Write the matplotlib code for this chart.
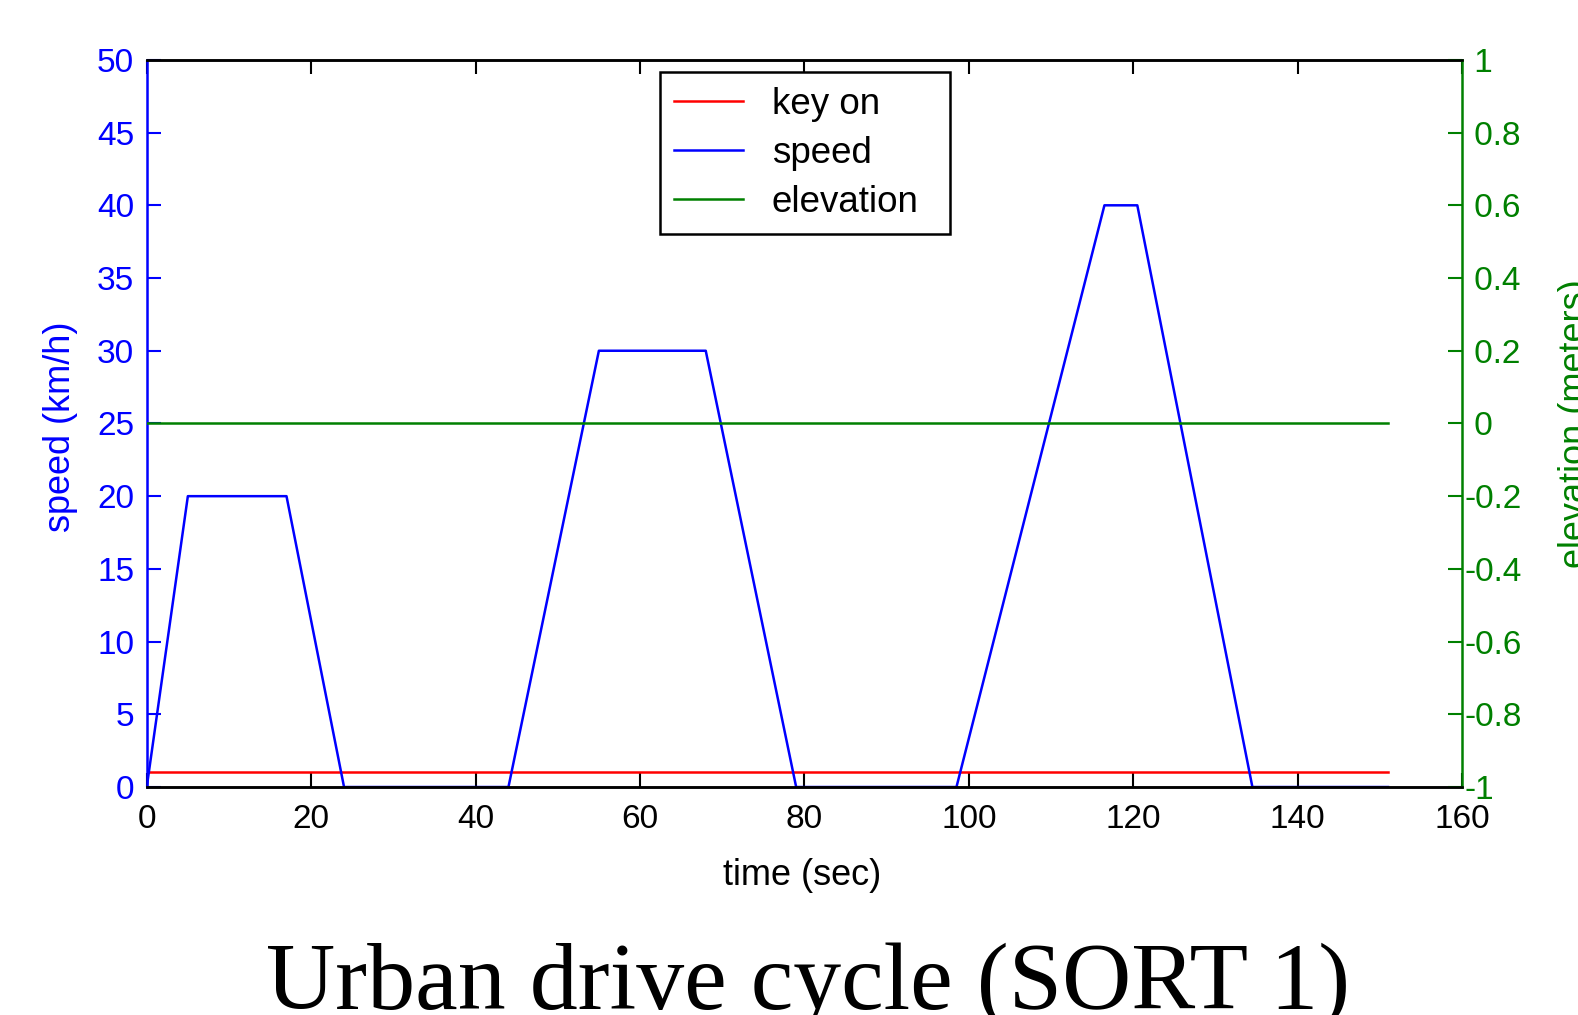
import matplotlib
matplotlib.use("Agg")
import matplotlib.pyplot as plt

# drive cycle breakpoints
time_s = [0, 5, 17, 24, 44, 55, 68, 79, 98.5, 116.5, 120.5, 134.5, 151]
speed_kmh = [0, 20, 20, 0, 0, 30, 30, 0, 0, 40, 40, 0, 0]
key_t = [0, 151]
key_on = [1, 1]
elev_t = [0, 151]
elevation_m = [0, 0]

x_ticks = [0, 20, 40, 60, 80, 100, 120, 140, 160]
speed_ticks = [0, 5, 10, 15, 20, 25, 30, 35, 40, 45, 50]
elev_ticks = [-1, -0.8, -0.6, -0.4, -0.2, 0, 0.2, 0.4, 0.6, 0.8, 1]
# leading space keeps positive labels shifted like the MATLAB original
elev_labels = ["-1", "-0.8", "-0.6", "-0.4", "-0.2", " 0", " 0.2", " 0.4", " 0.6", " 0.8", " 1"]

BLUE = "#0000ff"
GREEN = "#008000"
RED = "#ff0000"

plt.rcParams["font.family"] = ["Liberation Sans", "DejaVu Sans"]

fig = plt.figure(figsize=(15.78, 10.15), dpi=100)
ax = fig.add_axes([0.093, 0.2246, 0.8335, 0.7164])
ax2 = ax.twinx()

l_key, = ax.plot(key_t, key_on, color=RED, lw=1.8, label="key on")
l_speed, = ax.plot(time_s, speed_kmh, color=BLUE, lw=1.8, label="speed")
l_elev, = ax2.plot(elev_t, elevation_m, color=GREEN, lw=1.8, label="elevation")

ax.set_xlim(0, 160)
ax.set_ylim(0, 50)
ax2.set_ylim(-1, 1)
ax.set_xticks(x_ticks)
ax.set_yticks(speed_ticks)
ax2.set_yticks(elev_ticks)
ax2.set_yticklabels(elev_labels)

for a in (ax, ax2):
    for s in a.spines.values():
        s.set_linewidth(1.8)
        s.set_color("black")
ax.spines["left"].set_color(BLUE)
ax2.spines["right"].set_color(GREEN)
ax2.spines["left"].set_visible(False)
ax.spines["right"].set_visible(False)

ax.tick_params(axis="x", direction="in", top=True, length=10, width=1.5,
               labelsize=24, pad=12, colors="black")
ax.tick_params(axis="y", direction="in", left=True, right=False, length=10, width=1.5,
               labelsize=24, pad=9, colors=BLUE)
ax2.tick_params(axis="y", direction="in", length=10, width=1.5,
                labelsize=24, pad=2, colors=GREEN)

ax.set_xlabel("time (sec)", fontsize=26, color="black")
ax.xaxis.set_label_coords(0.498, -0.097)
ax.set_ylabel("speed (km/h)", fontsize=26, color=BLUE)
ax.yaxis.set_label_coords(-0.052, 0.495)
ax2.set_ylabel("elevation (meters)", fontsize=26, color=GREEN, rotation=90)
ax2.yaxis.set_label_coords(1.073, 0.50)

leg = ax2.legend([l_key, l_speed, l_elev], ["key on", "speed", "elevation"],
                 loc="upper left", bbox_to_anchor=(0.39, 0.983, 0.221, 0),
                 mode="expand", borderaxespad=0,
                 fontsize=26.5, fancybox=False, framealpha=1, edgecolor="black",
                 handlelength=1.85, labelspacing=0.375, borderpad=0.4,
                 handletextpad=0.8)
leg.get_frame().set_linewidth(1.8)

fig.text(0.512, 0.006, "Urban drive cycle (SORT 1)", ha="center", va="baseline",
         fontsize=69, family=["Liberation Serif", "DejaVu Serif"])

fig.savefig("out.png", dpi=100)
